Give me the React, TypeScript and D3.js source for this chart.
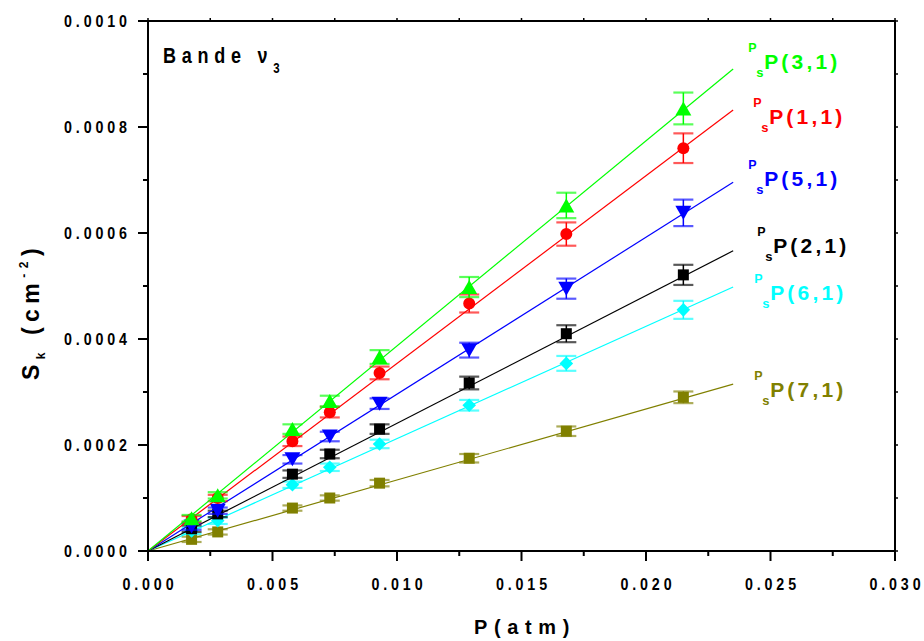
import React from 'react';
import * as d3 from 'd3';

// ---------- data ----------
const pressure = [0.00175, 0.0028, 0.0058, 0.0073, 0.0093, 0.0129, 0.0168, 0.0215];

const s31 = [0.000062, 0.000105, 0.000230, 0.000283, 0.000366, 0.000498, 0.000652, 0.000835];
const s11 = [0.000060, 0.000100, 0.000207, 0.000262, 0.000336, 0.000467, 0.000598, 0.000760];
const s51 = [0.000046, 0.000076, 0.000173, 0.000216, 0.000278, 0.000379, 0.000495, 0.000638];
const s21 = [0.000042, 0.000070, 0.000145, 0.000183, 0.000230, 0.000317, 0.000410, 0.000521];
const s61 = [0.000038, 0.000057, 0.000125, 0.000158, 0.000202, 0.000275, 0.000354, 0.000455];
const s71 = [0.000022, 0.000036, 0.000081, 0.000100, 0.000128, 0.000175, 0.000226, 0.000290];

const e31 = [0.000006, 0.000006, 0.000009, 0.000010, 0.000013, 0.000019, 0.000024, 0.000030];
const e11 = [0.000006, 0.000006, 0.000009, 0.000010, 0.000012, 0.000017, 0.000022, 0.000028];
const e51 = [0.000006, 0.000006, 0.000008, 0.000009, 0.000010, 0.000014, 0.000019, 0.000025];
const e21 = [0.000006, 0.000006, 0.000007, 0.000008, 0.000009, 0.000012, 0.000016, 0.000019];
const e61 = [0.000006, 0.000006, 0.000006, 0.000007, 0.000008, 0.000010, 0.000014, 0.000017];
const e71 = [0.000005, 0.000005, 0.000005, 0.000005, 0.000006, 0.000008, 0.000009, 0.000011];

// fitted slopes (S_k / P) of the straight lines through the origin
const slopes = [0.0387, 0.0354, 0.0296, 0.0241, 0.0212, 0.0134];
const fitEnd = 0.0235;

const labels = ['P(3,1)', 'P(1,1)', 'P(5,1)', 'P(2,1)', 'P(6,1)', 'P(7,1)'];
const colors = ['#00ff00', '#ff0000', '#0000ff', '#000000', '#00ffff', '#808000'];
const markers = ['triUp', 'circle', 'triDown', 'square', 'diamond', 'square'];
const values = [s31, s11, s51, s21, s61, s71];
const errors = [e31, e11, e51, e21, e61, e71];

const xTicks = [0, 0.005, 0.01, 0.015, 0.02, 0.025, 0.03];
const yTicks = [0, 0.0002, 0.0004, 0.0006, 0.0008, 0.001];

// label layout (dx from line end, dy from line end) – layout only
const labelOffsets = [
  [31, 0], [36, 14], [31, 4], [40, 2], [37, 13], [37, 13],
];

// ---------- layout ----------
const W = 924, H = 641;
const X0 = 148, X1 = 895, Y0 = 551, Y1 = 21;
const FONT = "Arial, 'Liberation Sans', sans-serif";

const x = d3.scaleLinear().domain([0, 0.03]).range([X0, X1]);
const y = d3.scaleLinear().domain([0, 0.001]).range([Y0, Y1]);

function markerPath(kind: string, cx: number, cy: number): string {
  const p = d3.path();
  if (kind === 'triUp') {
    const w = 16, h = 14;
    p.moveTo(cx, cy - h / 2); p.lineTo(cx + w / 2, cy + h / 2); p.lineTo(cx - w / 2, cy + h / 2); p.closePath();
  } else if (kind === 'triDown') {
    const w = 16, h = 14;
    p.moveTo(cx, cy + h / 2); p.lineTo(cx + w / 2, cy - h / 2); p.lineTo(cx - w / 2, cy - h / 2); p.closePath();
  } else if (kind === 'circle') {
    p.arc(cx, cy, 6, 0, Math.PI * 2);
  } else if (kind === 'square') {
    const s = 5.5;
    p.rect(cx - s, cy - s, 2 * s, 2 * s);
  } else {
    const r = 6.8;
    p.moveTo(cx, cy - r); p.lineTo(cx + r, cy); p.lineTo(cx, cy + r); p.lineTo(cx - r, cy); p.closePath();
  }
  return p.toString();
}

function fmtY(v: number) { return d3.format('.4f')(v); }
function fmtX(v: number) { return d3.format('.3f')(v); }

export default function App() {
  const order = [5, 4, 3, 2, 1, 0];
  const xMinor = d3.range(0, 0.0301, 0.0025);
  const yMinor = d3.range(0, 0.00101, 0.0001);
  const tickLS = 4.6, tickSX = 0.84, tickFS = 17;
  return (
    <svg width={W} height={H} style={{ position: 'absolute', left: 0, top: 0, background: '#fff' }}
      fontFamily={FONT} fontWeight="bold">
      <rect x={0} y={0} width={W} height={H} fill="#fff" />
      {/* fits, error bars, markers */}
      {order.map(si => {
        const c = colors[si];
        const fit = d3.line<number>().x(d => x(d)).y(d => y(d * slopes[si]))([0, fitEnd]) || '';
        return (
          <g key={si}>
            <path d={fit} stroke={c} strokeWidth={1.2} fill="none" />
            {pressure.map((p, i) => {
              const px = x(p);
              const v = values[si][i], e = errors[si][i];
              return (
                <g key={i}>
                  <line x1={px} x2={px} y1={y(v - e)} y2={y(v + e)} stroke={c} strokeWidth={1.5} />
                  <line x1={px - 10} x2={px + 10} y1={y(v - e)} y2={y(v - e)} stroke={c} strokeWidth={2.2} strokeOpacity={0.65} />
                  <line x1={px - 10} x2={px + 10} y1={y(v + e)} y2={y(v + e)} stroke={c} strokeWidth={2.2} strokeOpacity={0.65} />
                  <path d={markerPath(markers[si], px, y(v))} fill={c} />
                </g>
              );
            })}
          </g>
        );
      })}
      {/* series labels */}
      {labels.map((lab, si) => {
        const ex = x(fitEnd), ey = y(fitEnd * slopes[si]);
        const bx = ex + labelOffsets[si][0], by = ey + labelOffsets[si][1];
        const c = colors[si];
        return (
          <g key={lab} fill={c}>
            <text x={bx - 16} y={by - 17} fontSize={12.5}>P</text>
            <text x={bx - 8} y={by + 8} fontSize={13}>s</text>
            <text x={bx} y={by} fontSize={21} letterSpacing={3.2}>{lab}</text>
          </g>
        );
      })}
      {/* axes frame */}
      <rect x={X0} y={Y1} width={X1 - X0} height={Y0 - Y1} fill="none" stroke="#000" strokeWidth={2} />
      {/* ticks */}
      {xMinor.map((t, i) => {
        const major = i % 2 === 0;
        return (
          <g key={'xm' + i}>
            <line x1={x(t)} x2={x(t)} y1={Y0} y2={Y0 + (major ? 10 : 5)} stroke="#000" strokeWidth={2} />
            <line x1={x(t)} x2={x(t)} y1={Y1} y2={Y1 - 3} stroke="#000" strokeWidth={1.5} />
          </g>
        );
      })}
      {yMinor.map((t, i) => {
        const major = i % 2 === 0;
        return (
          <g key={'ym' + i}>
            <line x1={X0} x2={X0 - (major ? 10 : 5)} y1={y(t)} y2={y(t)} stroke="#000" strokeWidth={2} />
            <line x1={X1} x2={X1 + 3} y1={y(t)} y2={y(t)} stroke="#000" strokeWidth={1.5} />
          </g>
        );
      })}
      {xTicks.map(t => (
        <text key={'xl' + t} transform={`translate(${x(t) + tickLS * tickSX / 2},590) scale(${tickSX},1)`}
          fontSize={tickFS} letterSpacing={tickLS} textAnchor="middle">{fmtX(t)}</text>
      ))}
      {yTicks.map(t => (
        <text key={'yl' + t} transform={`translate(${127 + tickLS * tickSX},${y(t) + 6}) scale(${tickSX},1)`}
          fontSize={tickFS} letterSpacing={tickLS} textAnchor="end">{fmtY(t)}</text>
      ))}
      {/* axis titles */}
      <text transform={`translate(${(X0 + X1) / 2 + 3.5},634) scale(0.95,1)`} fontSize={21} letterSpacing={7}
        textAnchor="middle">P(atm)</text>
      <text transform="translate(39,380) rotate(-90)" fontSize={23} letterSpacing={5.5}>
        S<tspan fontSize={12} dy={6}>k</tspan><tspan dy={-6}> (cm</tspan><tspan fontSize={12} dy={-11}>-2</tspan><tspan dy={11}>)</tspan>
      </text>
      {/* title */}
      <text transform="translate(163,63) scale(0.82,1)" fontSize={22} letterSpacing={7}>
        Bande ν<tspan fontSize={14} dy={10}>3</tspan>
      </text>
    </svg>
  );
}
